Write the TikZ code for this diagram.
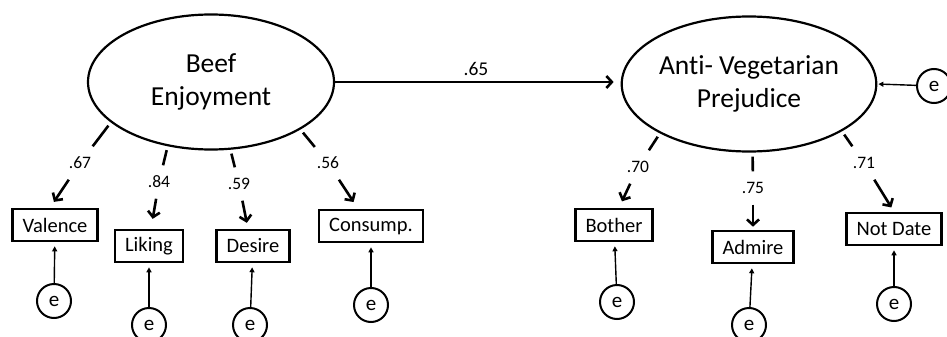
\documentclass[tikz,border=0pt]{standalone}
\usepackage{fontspec}
\setmainfont{Carlito}[Ligatures=CommonOff]
\usetikzlibrary{arrows.meta,shapes.geometric}

\begin{document}
\begin{tikzpicture}[x=1pt,y=-1pt,
  latent/.style={draw, ellipse, line width=2.2pt, minimum width=246pt,
    minimum height=135pt, inner sep=0pt, align=center,
    font=\fontsize{27.5}{33}\selectfont},
  obs/.style={draw, rectangle, line width=2.6pt, minimum height=32pt,
    inner xsep=10pt, inner ysep=0pt, font=\fontsize{20.5}{24}\selectfont},
  err/.style={draw, circle, line width=2pt, minimum size=34pt,
    inner sep=0pt, font=\fontsize{21}{24}\selectfont},
  coef/.style={minimum width=26pt, minimum height=33pt, inner sep=0pt,
    font=\fontsize{17.5}{20}\selectfont},
  load/.style={line width=2.6pt, shorten <=4pt},
  loadarrow/.style={line width=2.6pt,
    -{Straight Barb[length=5.5pt,width=12pt,line width=2.6pt]}},
  errarrow/.style={line width=1.4pt,
    -{Triangle[length=5pt,width=5pt]}, shorten >=4pt}]

\useasboundingbox (0,0) rectangle (947,337);

% latent variables
\node[latent] (be) at (211,82) {Beef\\Enjoyment};
\node[latent] (avp) at (749,84) {Anti- Vegetarian\\Prejudice};
\node[err] (eavp) at (934,86) {e};

% structural path
\node[font=\fontsize{19.5}{22}\selectfont] (c65) at (476,69) {.65};
\draw[loadarrow, shorten >=7pt] (be.east) -- (be.east -| avp.west);
\draw[errarrow, shorten >=1pt] (eavp) -- (avp.east);

% indicators of Beef Enjoyment
\node[obs] (valence) at (55,225) {Valence};
\node[obs] (liking) at (149,246) {Liking};
\node[obs] (desire) at (253,246) {Desire};
\node[obs] (consump) at (371,226) {Consump.};

% indicators of Anti-Vegetarian Prejudice
\node[obs] (bother) at (614,225) {Bother};
\node[obs] (admire) at (753,247) {Admire};
\node[obs] (notdate) at (894,229) {Not Date};

% loading coefficients
\node[coef] (c67) at (80,163) {.67};
\node[coef] (c84) at (159,182) {.84};
\node[coef] (c59) at (239,184) {.59};
\node[coef] (c56) at (328,163) {.56};
\node[coef] (c70) at (638,167) {.70};
\node[coef] (c75) at (753,188) {.75};
\node[coef] (c71) at (864,163) {.71};

% loadings, broken by their coefficients
\draw[load] (be.202.5) -- (c67);
\draw[loadarrow, shorten >=7pt] (c67) -- ([xshift=-5pt]valence.north);
\draw[load] (be.236.5) -- (c84);
\draw[loadarrow, shorten >=10pt] (c84) -- ([xshift=2pt]liking.north);
\draw[load] (be.286.5) -- (c59);
\draw[loadarrow, shorten >=6pt] (c59) -- ([xshift=-5pt]desire.north);
\draw[load] (be.332) -- (c56);
\draw[loadarrow, shorten >=8pt] (c56) -- ([xshift=-13pt]consump.north);
\draw[load] (avp.209.4) -- (c70);
\draw[loadarrow, shorten >=7pt] (c70) -- ([xshift=5pt]bother.north);
\draw[load] (avp.273) -- (c75);
\draw[loadarrow, shorten >=3pt] (c75) -- (admire.north);
\draw[load] (avp.333.4) -- (c71);
\draw[loadarrow, shorten >=5pt] (c71) -- (notdate.north);

% error terms of the indicators
\node[err] (evalence) at (54,301) {e};
\node[err] (eliking) at (149,325) {e};
\node[err] (edesire) at (250,325) {e};
\node[err] (econsump) at (371,305) {e};
\node[err] (ebother) at (617,302) {e};
\node[err] (eadmire) at (749,325) {e};
\node[err] (enotdate) at (894,304) {e};

\draw[errarrow] (evalence) -- (valence);
\draw[errarrow] (eliking) -- (liking);
\draw[errarrow] (edesire) -- (desire);
\draw[errarrow] (econsump) -- (consump);
\draw[errarrow] (ebother) -- (bother);
\draw[errarrow] (eadmire) -- (admire);
\draw[errarrow] (enotdate) -- (notdate);
\end{tikzpicture}
\end{document}
